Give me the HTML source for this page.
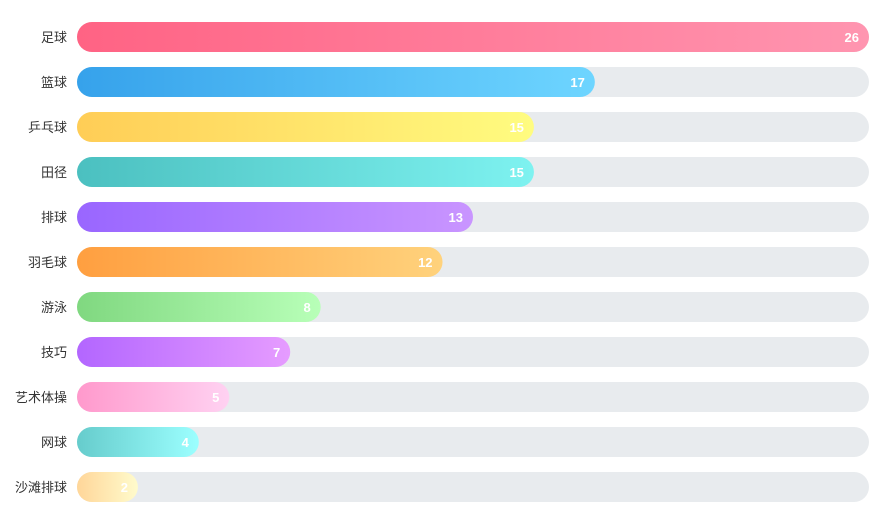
<!DOCTYPE html>
<html><head><meta charset="utf-8"><style>
body{margin:0;background:#fff;width:886px;height:523px;overflow:hidden}
svg{display:block}
text{font-family:"Liberation Sans","Noto Sans CJK SC",sans-serif}
</style></head><body>
<svg id="chart" width="886" height="523"></svg>
<script>
const categories=["足球","篮球","乒乓球","田径","排球","羽毛球","游泳","技巧","艺术体操","网球","沙滩排球"];
const values=[26,17,15,15,13,12,8,7,5,4,2];
const maxValue=26;
const colorStart=["#ff6384","#36a2eb","#ffcd56","#4bc0c0","#9966ff","#ff9f40","#80d880","#b366ff","#ff99cc","#66cccc","#ffd699"];
const colorEnd=["#ff95b0","#6ed5ff","#fffc80","#7ef2f0","#c995ff","#ffd27c","#b8ffb8","#e69cff","#ffd2f2","#9cffff","#fffbcc"];
const svg=document.getElementById('chart');
const NS='http://www.w3.org/2000/svg';
const x0=77,x1=869,top0=22,step=45,bh=30;
const xs=v=>x0+(x1-x0)*v/maxValue;
const ys=i=>top0+i*step;
const defs=document.createElementNS(NS,'defs');svg.appendChild(defs);
categories.forEach((c,i)=>{
  const g=document.createElementNS(NS,'linearGradient');
  g.setAttribute('id','g'+i);
  g.innerHTML=`<stop offset="0" stop-color="${colorStart[i]}"/><stop offset="1" stop-color="${colorEnd[i]}"/>`;
  defs.appendChild(g);
  const y=ys(i);
  const track=document.createElementNS(NS,'rect');
  
  
  track.setAttribute('x',x0);track.setAttribute('y',y);track.setAttribute('width',x1-x0);track.setAttribute('height',bh);
  track.setAttribute('rx',15);track.setAttribute('fill','#e8ebee');svg.appendChild(track);
  const bar=document.createElementNS(NS,'rect');
  
  
  bar.setAttribute('x',x0);bar.setAttribute('y',y);bar.setAttribute('width',xs(values[i])-x0);bar.setAttribute('height',bh);
  bar.setAttribute('rx',15);bar.setAttribute('fill','url(#g'+i+')');svg.appendChild(bar);
  const lab=document.createElementNS(NS,'text');
  
  
  lab.setAttribute('x',67);lab.setAttribute('y',y+bh/2+5);lab.setAttribute('text-anchor','end');
  lab.setAttribute('font-size','13');lab.setAttribute('fill','#333');lab.textContent=c;svg.appendChild(lab);
  const val=document.createElementNS(NS,'text');
  
  
  val.setAttribute('x',xs(values[i])-10);val.setAttribute('y',y+bh/2+5);val.setAttribute('text-anchor','end');
  val.setAttribute('font-size','13');val.setAttribute('font-weight','bold');val.setAttribute('fill','#fff');
  val.textContent=values[i];svg.appendChild(val);
});
</script>
</body></html>
